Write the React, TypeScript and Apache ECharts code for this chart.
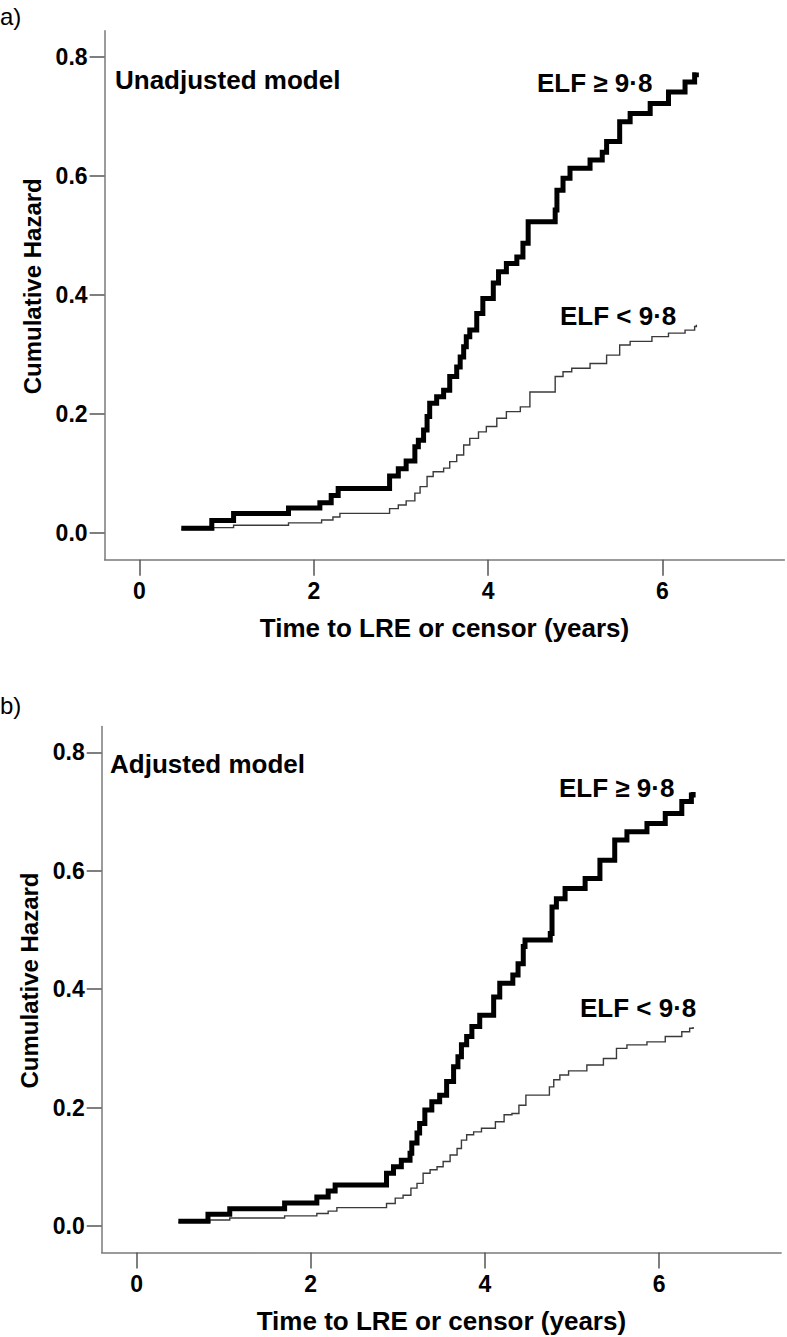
import React, { useEffect, useRef } from "react";
import * as echarts from "echarts";

// ---- Data ----
// Panel a) Unadjusted model
const unadjHighT = [0.48, 0.83, 1.08, 1.71, 2.07, 2.20, 2.28, 2.87, 2.97, 3.06, 3.16, 3.20, 3.26, 3.30, 3.33, 3.41, 3.49, 3.56, 3.64, 3.68, 3.72, 3.75, 3.79, 3.87, 3.94, 4.06, 4.12, 4.21, 4.33, 4.40, 4.46, 4.77, 4.79, 4.86, 4.94, 5.17, 5.31, 5.36, 5.51, 5.63, 5.86, 6.07, 6.26, 6.37, 6.39];
const unadjHighV = [0.008, 0.021, 0.033, 0.042, 0.051, 0.063, 0.075, 0.096, 0.108, 0.121, 0.145, 0.156, 0.173, 0.196, 0.218, 0.229, 0.240, 0.263, 0.279, 0.296, 0.313, 0.330, 0.341, 0.369, 0.394, 0.420, 0.439, 0.453, 0.464, 0.487, 0.523, 0.543, 0.576, 0.596, 0.613, 0.627, 0.640, 0.658, 0.691, 0.705, 0.722, 0.741, 0.758, 0.770, 0.774];
const unadjLowT = [0.48, 0.85, 1.08, 1.71, 2.09, 2.22, 2.30, 2.87, 2.97, 3.06, 3.16, 3.22, 3.30, 3.37, 3.49, 3.56, 3.64, 3.72, 3.79, 3.89, 3.98, 4.10, 4.21, 4.37, 4.48, 4.77, 4.86, 4.96, 5.17, 5.36, 5.51, 5.63, 5.88, 6.07, 6.26, 6.37, 6.39];
const unadjLowV = [0.006, 0.009, 0.013, 0.017, 0.022, 0.027, 0.033, 0.041, 0.047, 0.054, 0.067, 0.078, 0.095, 0.103, 0.109, 0.120, 0.131, 0.148, 0.159, 0.170, 0.179, 0.193, 0.204, 0.212, 0.237, 0.263, 0.271, 0.277, 0.285, 0.299, 0.316, 0.322, 0.330, 0.336, 0.341, 0.347, 0.350];

// Panel b) Adjusted model
const adjHighT = [0.48, 0.82, 1.07, 1.70, 2.07, 2.20, 2.28, 2.87, 2.95, 3.04, 3.14, 3.16, 3.22, 3.25, 3.31, 3.39, 3.48, 3.56, 3.64, 3.69, 3.73, 3.79, 3.85, 3.94, 4.10, 4.17, 4.32, 4.38, 4.44, 4.46, 4.75, 4.77, 4.82, 4.92, 5.15, 5.32, 5.49, 5.63, 5.86, 6.07, 6.26, 6.37, 6.39];
const adjHighV = [0.008, 0.020, 0.029, 0.039, 0.049, 0.059, 0.069, 0.089, 0.100, 0.111, 0.123, 0.140, 0.157, 0.173, 0.196, 0.210, 0.221, 0.244, 0.269, 0.286, 0.306, 0.320, 0.337, 0.356, 0.387, 0.410, 0.424, 0.443, 0.472, 0.483, 0.494, 0.539, 0.553, 0.570, 0.587, 0.618, 0.652, 0.666, 0.680, 0.697, 0.717, 0.728, 0.733];
const adjLowT = [0.48, 0.84, 1.07, 1.70, 2.07, 2.20, 2.30, 2.87, 2.97, 3.06, 3.15, 3.22, 3.29, 3.37, 3.45, 3.52, 3.60, 3.68, 3.73, 3.79, 3.87, 3.96, 4.12, 4.22, 4.31, 4.39, 4.47, 4.74, 4.79, 4.86, 4.96, 5.17, 5.36, 5.51, 5.63, 5.86, 6.07, 6.26, 6.35, 6.39];
const adjLowV = [0.006, 0.010, 0.0135, 0.017, 0.021, 0.025, 0.031, 0.038, 0.047, 0.052, 0.064, 0.072, 0.089, 0.095, 0.100, 0.109, 0.120, 0.131, 0.145, 0.154, 0.159, 0.165, 0.176, 0.188, 0.190, 0.204, 0.221, 0.235, 0.247, 0.255, 0.262, 0.272, 0.283, 0.300, 0.306, 0.311, 0.320, 0.328, 0.334, 0.336];

const xTicks = [0, 2, 4, 6];
const yTicks = [0, 0.2, 0.4, 0.6, 0.8];
const xTitle = "Time to LRE or censor (years)";
const yTitle = "Cumulative Hazard";
const panelLabels = ["a)", "b)"];
const modelLabels = ["Unadjusted model", "Adjusted model"];
const groupHigh = "ELF \u2265 9\u00b78";
const groupLow = "ELF < 9\u00b78";

const FONT = "'Liberation Sans', Arial, Helvetica, sans-serif";

function pairs(t: number[], v: number[]) {
  return t.map((x, i) => [x, v[i]]);
}

function xAxisFor(gridIndex: number) {
  return {
    type: "value",
    gridIndex,
    min: -0.4,
    max: 7.4,
    axisLine: { show: true, onZero: false, lineStyle: { color: "#7a7a7a", width: 1.5 } },
    axisTick: { show: true, customValues: xTicks, length: 16, lineStyle: { color: "#555", width: 1.5 } },
    axisLabel: {
      customValues: xTicks,
      margin: 20,
      fontSize: 23,
      fontWeight: "bold",
      color: "#000",
      fontFamily: FONT,
    },
    splitLine: { show: false },
    name: xTitle,
    nameLocation: "middle",
    nameGap: 55,
    nameTextStyle: { fontSize: 26, fontWeight: "bold", color: "#000", fontFamily: FONT },
  };
}

function yAxisFor(gridIndex: number) {
  return {
    type: "value",
    gridIndex,
    min: -0.045,
    max: 0.844,
    axisLine: { show: true, onZero: false, lineStyle: { color: "#7a7a7a", width: 1.5 } },
    axisTick: { show: true, customValues: yTicks, length: 15, lineStyle: { color: "#555", width: 1.5 } },
    axisLabel: {
      customValues: yTicks,
      formatter: (v: number) => v.toFixed(1),
      margin: 17,
      fontSize: 23,
      fontWeight: "bold",
      color: "#000",
      fontFamily: FONT,
    },
    splitLine: { show: false },
    name: yTitle,
    nameLocation: "middle",
    nameRotate: 90,
    nameGap: 58,
    nameTextStyle: {
      fontSize: 24,
      fontWeight: "bold",
      color: "#000",
      fontFamily: FONT,
      padding: [0, 0, 0, 18],
    },
  };
}

function lineSeries(idx: number, data: number[][], thick: boolean) {
  return {
    type: "line",
    xAxisIndex: idx,
    yAxisIndex: idx,
    step: "end",
    data,
    showSymbol: false,
    symbol: "none",
    z: thick ? 3 : 2,
    lineStyle: thick
      ? { color: "#000", width: 5, join: "miter", cap: "butt" }
      : { color: "#3a3a3a", width: 1.4, join: "miter", cap: "butt" },
  };
}

function txt(text: string, x: number, y: number, size: number, bold: boolean) {
  return {
    type: "text",
    x,
    y,
    style: {
      text,
      font: `${bold ? "bold " : ""}${size}px ${FONT}`,
      fill: "#000",
      textAlign: "left",
      textVerticalAlign: "middle",
      verticalAlign: "middle",
    },
  };
}

export default function App() {
  const ref = useRef<HTMLDivElement>(null);
  useEffect(() => {
    if (!ref.current) return;
    const chart = echarts.init(ref.current, undefined, { renderer: "svg" });
    chart.setOption({
      animation: false,
      backgroundColor: "#fff",
      grid: [
        { left: 104.6, top: 30.8, width: 679.8, height: 529, containLabel: false },
        { left: 101.7, top: 726.4, width: 679.4, height: 526.2, containLabel: false },
      ],
      xAxis: [xAxisFor(0), xAxisFor(1)],
      yAxis: [yAxisFor(0), yAxisFor(1)],
      series: [
        lineSeries(0, pairs(unadjLowT, unadjLowV), false),
        lineSeries(0, pairs(unadjHighT, unadjHighV), true),
        lineSeries(1, pairs(adjLowT, adjLowV), false),
        lineSeries(1, pairs(adjHighT, adjHighV), true),
      ],
      graphic: [
        txt(panelLabels[0], 0, 16, 24, false),
        txt(panelLabels[1], 0, 705, 24, false),
        txt(modelLabels[0], 115, 80, 26, true),
        txt(modelLabels[1], 110, 764, 26, true),
        txt(groupHigh, 537, 83, 26, true),
        txt(groupLow, 560, 316, 26, true),
        txt(groupHigh, 559, 788, 26, true),
        txt(groupLow, 580, 1008, 26, true),
      ],
    });
    return () => chart.dispose();
  }, []);
  return (
    <div
      ref={ref}
      style={{ position: "absolute", left: 0, top: 0, width: 787, height: 1337, background: "#fff" }}
    />
  );
}
